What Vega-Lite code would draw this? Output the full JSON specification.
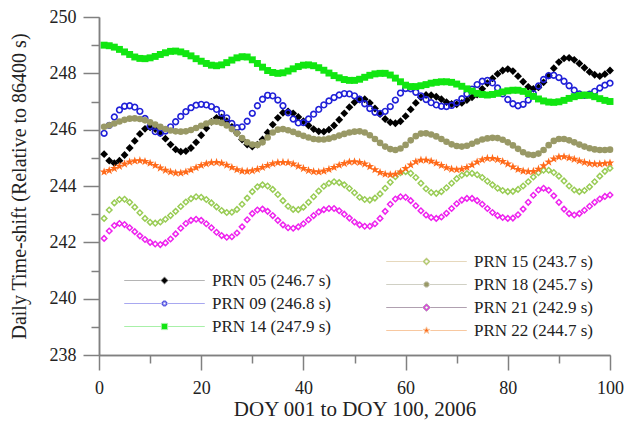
{
  "$schema": "https://vega.github.io/schema/vega-lite/v6.json",
  "width": 511,
  "height": 338,
  "autosize": {"type": "none"},
  "padding": {"left": 99, "top": 17, "right": 14, "bottom": 68},
  "background": "white",
  "config": {
    "view": {"stroke": null},
    "font": "Liberation Serif",
    "axis": {"labelFlush": false, "grid": false, "labelFont": "Liberation Serif", "titleFont": "Liberation Serif", "labelColor": "#222222", "titleColor": "#222222", "titleFontWeight": "normal", "domainColor": "#808080", "tickColor": "#808080", "domainWidth": 1.5, "tickWidth": 1.5},
    "legend": {"labelFont": "Liberation Serif", "labelFontSize": 17, "labelColor": "#222222"}
  },
  "datasets": {
    "p05": [{"d":1,"v":245.13},{"d":2,"v":244.90},{"d":3,"v":244.81},{"d":4,"v":244.90},{"d":5,"v":245.10},{"d":6,"v":245.35},{"d":7,"v":245.60},{"d":8,"v":245.85},{"d":9,"v":246.03},{"d":10,"v":246.08},{"d":11,"v":246.02},{"d":12,"v":245.88},{"d":13,"v":245.68},{"d":14,"v":245.47},{"d":15,"v":245.30},{"d":16,"v":245.22},{"d":17,"v":245.24},{"d":18,"v":245.35},{"d":19,"v":245.55},{"d":20,"v":245.80},{"d":21,"v":246.05},{"d":22,"v":246.28},{"d":23,"v":246.42},{"d":24,"v":246.43},{"d":25,"v":246.30},{"d":26,"v":246.10},{"d":27,"v":245.88},{"d":28,"v":245.65},{"d":29,"v":245.47},{"d":30,"v":245.40},{"d":31,"v":245.47},{"d":32,"v":245.65},{"d":33,"v":245.90},{"d":34,"v":246.18},{"d":35,"v":246.42},{"d":36,"v":246.60},{"d":37,"v":246.65},{"d":38,"v":246.58},{"d":39,"v":246.45},{"d":40,"v":246.30},{"d":41,"v":246.15},{"d":42,"v":246.02},{"d":43,"v":245.94},{"d":44,"v":245.93},{"d":45,"v":246.00},{"d":46,"v":246.15},{"d":47,"v":246.35},{"d":48,"v":246.58},{"d":49,"v":246.80},{"d":50,"v":246.97},{"d":51,"v":247.07},{"d":52,"v":247.08},{"d":53,"v":246.95},{"d":54,"v":246.75},{"d":55,"v":246.55},{"d":56,"v":246.38},{"d":57,"v":246.26},{"d":58,"v":246.23},{"d":59,"v":246.30},{"d":60,"v":246.48},{"d":61,"v":246.72},{"d":62,"v":246.95},{"d":63,"v":247.15},{"d":64,"v":247.23},{"d":65,"v":247.22},{"d":66,"v":247.17},{"d":67,"v":247.08},{"d":68,"v":246.98},{"d":69,"v":246.91},{"d":70,"v":246.90},{"d":71,"v":246.95},{"d":72,"v":247.05},{"d":73,"v":247.15},{"d":74,"v":247.25},{"d":75,"v":247.45},{"d":76,"v":247.65},{"d":77,"v":247.82},{"d":78,"v":247.98},{"d":79,"v":248.10},{"d":80,"v":248.15},{"d":81,"v":248.08},{"d":82,"v":247.90},{"d":83,"v":247.70},{"d":84,"v":247.52},{"d":85,"v":247.45},{"d":86,"v":247.50},{"d":87,"v":247.68},{"d":88,"v":247.92},{"d":89,"v":248.18},{"d":90,"v":248.40},{"d":91,"v":248.53},{"d":92,"v":248.55},{"d":93,"v":248.48},{"d":94,"v":248.35},{"d":95,"v":248.20},{"d":96,"v":248.05},{"d":97,"v":247.95},{"d":98,"v":247.90},{"d":99,"v":247.97},{"d":100,"v":248.10}],
    "p09": [{"d":1,"v":245.87},{"d":2,"v":246.15},{"d":3,"v":246.45},{"d":4,"v":246.70},{"d":5,"v":246.83},{"d":6,"v":246.85},{"d":7,"v":246.80},{"d":8,"v":246.65},{"d":9,"v":246.40},{"d":10,"v":246.12},{"d":11,"v":245.93},{"d":12,"v":245.88},{"d":13,"v":245.95},{"d":14,"v":246.10},{"d":15,"v":246.28},{"d":16,"v":246.47},{"d":17,"v":246.64},{"d":18,"v":246.78},{"d":19,"v":246.87},{"d":20,"v":246.90},{"d":21,"v":246.88},{"d":22,"v":246.82},{"d":23,"v":246.72},{"d":24,"v":246.58},{"d":25,"v":246.42},{"d":26,"v":246.22},{"d":27,"v":246.07},{"d":28,"v":246.10},{"d":29,"v":246.30},{"d":30,"v":246.58},{"d":31,"v":246.85},{"d":32,"v":247.08},{"d":33,"v":247.22},{"d":34,"v":247.20},{"d":35,"v":247.05},{"d":36,"v":246.85},{"d":37,"v":246.60},{"d":38,"v":246.38},{"d":39,"v":246.24},{"d":40,"v":246.25},{"d":41,"v":246.38},{"d":42,"v":246.55},{"d":43,"v":246.72},{"d":44,"v":246.88},{"d":45,"v":247.02},{"d":46,"v":247.14},{"d":47,"v":247.23},{"d":48,"v":247.28},{"d":49,"v":247.27},{"d":50,"v":247.20},{"d":51,"v":247.08},{"d":52,"v":246.92},{"d":53,"v":246.75},{"d":54,"v":246.62},{"d":55,"v":246.58},{"d":56,"v":246.65},{"d":57,"v":246.82},{"d":58,"v":247.05},{"d":59,"v":247.30},{"d":60,"v":247.46},{"d":61,"v":247.45},{"d":62,"v":247.33},{"d":63,"v":247.20},{"d":64,"v":247.07},{"d":65,"v":246.96},{"d":66,"v":246.88},{"d":67,"v":246.83},{"d":68,"v":246.82},{"d":69,"v":246.86},{"d":70,"v":246.96},{"d":71,"v":247.10},{"d":72,"v":247.27},{"d":73,"v":247.44},{"d":74,"v":247.60},{"d":75,"v":247.72},{"d":76,"v":247.75},{"d":77,"v":247.66},{"d":78,"v":247.48},{"d":79,"v":247.27},{"d":80,"v":247.07},{"d":81,"v":246.92},{"d":82,"v":246.85},{"d":83,"v":246.90},{"d":84,"v":247.05},{"d":85,"v":247.28},{"d":86,"v":247.55},{"d":87,"v":247.78},{"d":88,"v":247.92},{"d":89,"v":247.93},{"d":90,"v":247.85},{"d":91,"v":247.72},{"d":92,"v":247.56},{"d":93,"v":247.40},{"d":94,"v":247.27},{"d":95,"v":247.22},{"d":96,"v":247.26},{"d":97,"v":247.36},{"d":98,"v":247.48},{"d":99,"v":247.58},{"d":100,"v":247.65}],
    "p14": [{"d":1,"v":249.00},{"d":2,"v":248.98},{"d":3,"v":248.93},{"d":4,"v":248.85},{"d":5,"v":248.76},{"d":6,"v":248.67},{"d":7,"v":248.58},{"d":8,"v":248.53},{"d":9,"v":248.52},{"d":10,"v":248.55},{"d":11,"v":248.60},{"d":12,"v":248.67},{"d":13,"v":248.73},{"d":14,"v":248.78},{"d":15,"v":248.79},{"d":16,"v":248.76},{"d":17,"v":248.70},{"d":18,"v":248.62},{"d":19,"v":248.52},{"d":20,"v":248.43},{"d":21,"v":248.35},{"d":22,"v":248.29},{"d":23,"v":248.27},{"d":24,"v":248.30},{"d":25,"v":248.38},{"d":26,"v":248.47},{"d":27,"v":248.55},{"d":28,"v":248.59},{"d":29,"v":248.58},{"d":30,"v":248.48},{"d":31,"v":248.35},{"d":32,"v":248.22},{"d":33,"v":248.10},{"d":34,"v":248.03},{"d":35,"v":248.00},{"d":36,"v":248.02},{"d":37,"v":248.08},{"d":38,"v":248.16},{"d":39,"v":248.24},{"d":40,"v":248.29},{"d":41,"v":248.30},{"d":42,"v":248.27},{"d":43,"v":248.20},{"d":44,"v":248.11},{"d":45,"v":248.01},{"d":46,"v":247.92},{"d":47,"v":247.84},{"d":48,"v":247.78},{"d":49,"v":247.75},{"d":50,"v":247.75},{"d":51,"v":247.79},{"d":52,"v":247.86},{"d":53,"v":247.93},{"d":54,"v":247.98},{"d":55,"v":248.00},{"d":56,"v":248.00},{"d":57,"v":247.94},{"d":58,"v":247.83},{"d":59,"v":247.70},{"d":60,"v":247.58},{"d":61,"v":247.53},{"d":62,"v":247.53},{"d":63,"v":247.56},{"d":64,"v":247.60},{"d":65,"v":247.65},{"d":66,"v":247.68},{"d":67,"v":247.70},{"d":68,"v":247.70},{"d":69,"v":247.68},{"d":70,"v":247.62},{"d":71,"v":247.54},{"d":72,"v":247.45},{"d":73,"v":247.37},{"d":74,"v":247.29},{"d":75,"v":247.25},{"d":76,"v":247.23},{"d":77,"v":247.25},{"d":78,"v":247.29},{"d":79,"v":247.34},{"d":80,"v":247.38},{"d":81,"v":247.40},{"d":82,"v":247.40},{"d":83,"v":247.36},{"d":84,"v":247.28},{"d":85,"v":247.18},{"d":86,"v":247.09},{"d":87,"v":247.02},{"d":88,"v":246.98},{"d":89,"v":246.97},{"d":90,"v":246.99},{"d":91,"v":247.04},{"d":92,"v":247.11},{"d":93,"v":247.17},{"d":94,"v":247.21},{"d":95,"v":247.23},{"d":96,"v":247.22},{"d":97,"v":247.17},{"d":98,"v":247.10},{"d":99,"v":247.04},{"d":100,"v":247.00}],
    "p15": [{"d":1,"v":242.85},{"d":2,"v":243.15},{"d":3,"v":243.40},{"d":4,"v":243.52},{"d":5,"v":243.53},{"d":6,"v":243.42},{"d":7,"v":243.25},{"d":8,"v":243.05},{"d":9,"v":242.85},{"d":10,"v":242.71},{"d":11,"v":242.68},{"d":12,"v":242.72},{"d":13,"v":242.82},{"d":14,"v":242.95},{"d":15,"v":243.10},{"d":16,"v":243.27},{"d":17,"v":243.43},{"d":18,"v":243.55},{"d":19,"v":243.62},{"d":20,"v":243.60},{"d":21,"v":243.52},{"d":22,"v":243.40},{"d":23,"v":243.26},{"d":24,"v":243.13},{"d":25,"v":243.06},{"d":26,"v":243.07},{"d":27,"v":243.17},{"d":28,"v":243.35},{"d":29,"v":243.57},{"d":30,"v":243.80},{"d":31,"v":243.97},{"d":32,"v":244.04},{"d":33,"v":244.00},{"d":34,"v":243.88},{"d":35,"v":243.70},{"d":36,"v":243.48},{"d":37,"v":243.28},{"d":38,"v":243.17},{"d":39,"v":243.16},{"d":40,"v":243.25},{"d":41,"v":243.42},{"d":42,"v":243.62},{"d":43,"v":243.82},{"d":44,"v":243.99},{"d":45,"v":244.10},{"d":46,"v":244.15},{"d":47,"v":244.12},{"d":48,"v":244.04},{"d":49,"v":243.91},{"d":50,"v":243.76},{"d":51,"v":243.60},{"d":52,"v":243.52},{"d":53,"v":243.50},{"d":54,"v":243.57},{"d":55,"v":243.72},{"d":56,"v":243.92},{"d":57,"v":244.13},{"d":58,"v":244.33},{"d":59,"v":244.47},{"d":60,"v":244.51},{"d":61,"v":244.45},{"d":62,"v":244.30},{"d":63,"v":244.10},{"d":64,"v":243.90},{"d":65,"v":243.77},{"d":66,"v":243.74},{"d":67,"v":243.80},{"d":68,"v":243.94},{"d":69,"v":244.10},{"d":70,"v":244.26},{"d":71,"v":244.38},{"d":72,"v":244.44},{"d":73,"v":244.45},{"d":74,"v":244.40},{"d":75,"v":244.30},{"d":76,"v":244.17},{"d":77,"v":244.04},{"d":78,"v":243.92},{"d":79,"v":243.84},{"d":80,"v":243.80},{"d":81,"v":243.81},{"d":82,"v":243.88},{"d":83,"v":244.00},{"d":84,"v":244.15},{"d":85,"v":244.32},{"d":86,"v":244.47},{"d":87,"v":244.56},{"d":88,"v":244.56},{"d":89,"v":244.48},{"d":90,"v":244.35},{"d":91,"v":244.18},{"d":92,"v":244.00},{"d":93,"v":243.86},{"d":94,"v":243.80},{"d":95,"v":243.84},{"d":96,"v":243.97},{"d":97,"v":244.15},{"d":98,"v":244.35},{"d":99,"v":244.52},{"d":100,"v":244.63}],
    "p18": [{"d":1,"v":246.10},{"d":2,"v":246.15},{"d":3,"v":246.22},{"d":4,"v":246.29},{"d":5,"v":246.35},{"d":6,"v":246.39},{"d":7,"v":246.40},{"d":8,"v":246.38},{"d":9,"v":246.33},{"d":10,"v":246.26},{"d":11,"v":246.18},{"d":12,"v":246.10},{"d":13,"v":246.02},{"d":14,"v":245.97},{"d":15,"v":245.94},{"d":16,"v":245.93},{"d":17,"v":245.94},{"d":18,"v":245.99},{"d":19,"v":246.06},{"d":20,"v":246.14},{"d":21,"v":246.22},{"d":22,"v":246.27},{"d":23,"v":246.28},{"d":24,"v":246.24},{"d":25,"v":246.15},{"d":26,"v":246.02},{"d":27,"v":245.87},{"d":28,"v":245.70},{"d":29,"v":245.55},{"d":30,"v":245.47},{"d":31,"v":245.46},{"d":32,"v":245.55},{"d":33,"v":245.72},{"d":34,"v":245.90},{"d":35,"v":246.00},{"d":36,"v":246.02},{"d":37,"v":245.98},{"d":38,"v":245.92},{"d":39,"v":245.85},{"d":40,"v":245.78},{"d":41,"v":245.72},{"d":42,"v":245.67},{"d":43,"v":245.65},{"d":44,"v":245.65},{"d":45,"v":245.68},{"d":46,"v":245.73},{"d":47,"v":245.79},{"d":48,"v":245.85},{"d":49,"v":245.90},{"d":50,"v":245.93},{"d":51,"v":245.94},{"d":52,"v":245.90},{"d":53,"v":245.80},{"d":54,"v":245.67},{"d":55,"v":245.53},{"d":56,"v":245.40},{"d":57,"v":245.31},{"d":58,"v":245.28},{"d":59,"v":245.33},{"d":60,"v":245.46},{"d":61,"v":245.62},{"d":62,"v":245.77},{"d":63,"v":245.86},{"d":64,"v":245.87},{"d":65,"v":245.83},{"d":66,"v":245.76},{"d":67,"v":245.67},{"d":68,"v":245.57},{"d":69,"v":245.48},{"d":70,"v":245.42},{"d":71,"v":245.40},{"d":72,"v":245.43},{"d":73,"v":245.50},{"d":74,"v":245.58},{"d":75,"v":245.65},{"d":76,"v":245.69},{"d":77,"v":245.71},{"d":78,"v":245.70},{"d":79,"v":245.64},{"d":80,"v":245.55},{"d":81,"v":245.44},{"d":82,"v":245.32},{"d":83,"v":245.20},{"d":84,"v":245.12},{"d":85,"v":245.10},{"d":86,"v":245.15},{"d":87,"v":245.28},{"d":88,"v":245.45},{"d":89,"v":245.60},{"d":90,"v":245.67},{"d":91,"v":245.67},{"d":92,"v":245.62},{"d":93,"v":245.55},{"d":94,"v":245.47},{"d":95,"v":245.40},{"d":96,"v":245.34},{"d":97,"v":245.30},{"d":98,"v":245.28},{"d":99,"v":245.28},{"d":100,"v":245.29}],
    "p21": [{"d":1,"v":242.14},{"d":2,"v":242.40},{"d":3,"v":242.60},{"d":4,"v":242.67},{"d":5,"v":242.63},{"d":6,"v":242.52},{"d":7,"v":242.38},{"d":8,"v":242.23},{"d":9,"v":242.10},{"d":10,"v":242.00},{"d":11,"v":241.94},{"d":12,"v":241.92},{"d":13,"v":241.98},{"d":14,"v":242.12},{"d":15,"v":242.30},{"d":16,"v":242.50},{"d":17,"v":242.67},{"d":18,"v":242.78},{"d":19,"v":242.82},{"d":20,"v":242.78},{"d":21,"v":242.66},{"d":22,"v":242.52},{"d":23,"v":242.36},{"d":24,"v":242.24},{"d":25,"v":242.18},{"d":26,"v":242.20},{"d":27,"v":242.33},{"d":28,"v":242.55},{"d":29,"v":242.80},{"d":30,"v":243.02},{"d":31,"v":243.15},{"d":32,"v":243.18},{"d":33,"v":243.10},{"d":34,"v":242.95},{"d":35,"v":242.78},{"d":36,"v":242.62},{"d":37,"v":242.52},{"d":38,"v":242.50},{"d":39,"v":242.55},{"d":40,"v":242.66},{"d":41,"v":242.80},{"d":42,"v":242.95},{"d":43,"v":243.08},{"d":44,"v":243.16},{"d":45,"v":243.20},{"d":46,"v":243.20},{"d":47,"v":243.12},{"d":48,"v":243.00},{"d":49,"v":242.86},{"d":50,"v":242.72},{"d":51,"v":242.62},{"d":52,"v":242.57},{"d":53,"v":242.57},{"d":54,"v":242.66},{"d":55,"v":242.85},{"d":56,"v":243.10},{"d":57,"v":243.35},{"d":58,"v":243.54},{"d":59,"v":243.62},{"d":60,"v":243.60},{"d":61,"v":243.48},{"d":62,"v":243.30},{"d":63,"v":243.12},{"d":64,"v":242.97},{"d":65,"v":242.88},{"d":66,"v":242.85},{"d":67,"v":242.90},{"d":68,"v":243.03},{"d":69,"v":243.20},{"d":70,"v":243.37},{"d":71,"v":243.50},{"d":72,"v":243.56},{"d":73,"v":243.56},{"d":74,"v":243.48},{"d":75,"v":243.35},{"d":76,"v":243.20},{"d":77,"v":243.06},{"d":78,"v":242.95},{"d":79,"v":242.88},{"d":80,"v":242.85},{"d":81,"v":242.86},{"d":82,"v":242.98},{"d":83,"v":243.18},{"d":84,"v":243.42},{"d":85,"v":243.67},{"d":86,"v":243.86},{"d":87,"v":243.92},{"d":88,"v":243.85},{"d":89,"v":243.65},{"d":90,"v":243.42},{"d":91,"v":243.18},{"d":92,"v":243.02},{"d":93,"v":242.97},{"d":94,"v":243.02},{"d":95,"v":243.14},{"d":96,"v":243.28},{"d":97,"v":243.42},{"d":98,"v":243.54},{"d":99,"v":243.63},{"d":100,"v":243.68}],
    "p22": [{"d":1,"v":244.50},{"d":2,"v":244.55},{"d":3,"v":244.62},{"d":4,"v":244.70},{"d":5,"v":244.78},{"d":6,"v":244.85},{"d":7,"v":244.89},{"d":8,"v":244.90},{"d":9,"v":244.87},{"d":10,"v":244.81},{"d":11,"v":244.73},{"d":12,"v":244.64},{"d":13,"v":244.56},{"d":14,"v":244.50},{"d":15,"v":244.46},{"d":16,"v":244.46},{"d":17,"v":244.50},{"d":18,"v":244.57},{"d":19,"v":244.65},{"d":20,"v":244.73},{"d":21,"v":244.79},{"d":22,"v":244.83},{"d":23,"v":244.84},{"d":24,"v":244.81},{"d":25,"v":244.74},{"d":26,"v":244.66},{"d":27,"v":244.58},{"d":28,"v":244.53},{"d":29,"v":244.52},{"d":30,"v":244.54},{"d":31,"v":244.59},{"d":32,"v":244.66},{"d":33,"v":244.73},{"d":34,"v":244.79},{"d":35,"v":244.83},{"d":36,"v":244.84},{"d":37,"v":244.83},{"d":38,"v":244.78},{"d":39,"v":244.70},{"d":40,"v":244.62},{"d":41,"v":244.55},{"d":42,"v":244.51},{"d":43,"v":244.50},{"d":44,"v":244.53},{"d":45,"v":244.59},{"d":46,"v":244.66},{"d":47,"v":244.74},{"d":48,"v":244.80},{"d":49,"v":244.85},{"d":50,"v":244.86},{"d":51,"v":244.84},{"d":52,"v":244.78},{"d":53,"v":244.69},{"d":54,"v":244.58},{"d":55,"v":244.48},{"d":56,"v":244.42},{"d":57,"v":244.40},{"d":58,"v":244.42},{"d":59,"v":244.50},{"d":60,"v":244.62},{"d":61,"v":244.75},{"d":62,"v":244.86},{"d":63,"v":244.92},{"d":64,"v":244.92},{"d":65,"v":244.88},{"d":66,"v":244.81},{"d":67,"v":244.73},{"d":68,"v":244.65},{"d":69,"v":244.60},{"d":70,"v":244.58},{"d":71,"v":244.60},{"d":72,"v":244.66},{"d":73,"v":244.75},{"d":74,"v":244.85},{"d":75,"v":244.93},{"d":76,"v":244.98},{"d":77,"v":244.98},{"d":78,"v":244.94},{"d":79,"v":244.87},{"d":80,"v":244.78},{"d":81,"v":244.68},{"d":82,"v":244.59},{"d":83,"v":244.53},{"d":84,"v":244.51},{"d":85,"v":244.52},{"d":86,"v":244.60},{"d":87,"v":244.72},{"d":88,"v":244.85},{"d":89,"v":244.96},{"d":90,"v":245.03},{"d":91,"v":245.04},{"d":92,"v":245.00},{"d":93,"v":244.95},{"d":94,"v":244.89},{"d":95,"v":244.84},{"d":96,"v":244.80},{"d":97,"v":244.78},{"d":98,"v":244.78},{"d":99,"v":244.80},{"d":100,"v":244.82}]
  },
  "layer": [
    {
      "encoding": {
        "x": {"field": "d", "type": "quantitative", "scale": {"domain": [0, 100], "nice": false, "zero": false},
          "axis": {"orient": "bottom", "values": [0, 20, 40, 60, 80, 100], "tickSize": 15, "labelFontSize": 18, "labelPadding": 9, "title": "DOY 001 to DOY 100, 2006", "titleFontSize": 21, "titlePadding": 1}},
        "y": {"field": "v", "type": "quantitative", "scale": {"domain": [238, 250], "nice": false, "zero": false},
          "axis": {"orient": "left", "values": [238, 240, 242, 244, 246, 248, 250], "tickSize": 16, "labelFontSize": 18, "labelPadding": 7, "title": "Daily Time-shift (Relative to 86400 s)", "titleFontSize": 20, "titlePadding": 20}}
      },
      "layer": [
        {
          "data": {"name": "p05"},
          "mark": {"type": "point", "shape": "diamond", "filled": true, "size": 62, "opacity": 1, "color": "#000000"}
        },
        {
          "data": {"name": "p09"},
          "mark": {"type": "point", "shape": "M1,0L0.866,0.5L0.5,0.866L0,1L-0.5,0.866L-0.866,0.5L-1,0L-0.866,-0.5L-0.5,-0.866L0,-1L0.5,-0.866L0.866,-0.5ZM0.55,0L0.476,-0.275L0.275,-0.476L0,-0.55L-0.275,-0.476L-0.476,-0.275L-0.55,0L-0.476,0.275L-0.275,0.476L0,0.55L0.275,0.476L0.476,0.275Z", "filled": true, "size": 54, "opacity": 1, "color": "#2020d8"}
        },
        {
          "data": {"name": "p14"},
          "mark": {"type": "point", "shape": "square", "filled": true, "size": 48, "opacity": 1, "color": "#11e611"}
        },
        {
          "data": {"name": "p05"},
          "mark": {"type": "point", "filled": true, "size": 0, "strokeWidth": 1, "opacity": 1},
          "encoding": {
            "fill": {"datum": "PRN 05 (246.7 s)", "type": "nominal",
              "scale": {"domain": ["PRN 05 (246.7 s)", "PRN 09 (246.8 s)", "PRN 14 (247.9 s)"], "range": ["#000000", "#2020d8", "#11e611"]},
              "legend": {"title": null, "orient": "none", "legendX": 57, "legendY": 255, "padding": 0, "rowPadding": 5, "symbolSize": 27, "symbolStrokeWidth": 1, "labelOffset": 39, "labelFontSize": 17}},
            "stroke": {"datum": "PRN 05 (246.7 s)", "type": "nominal",
              "scale": {"domain": ["PRN 05 (246.7 s)", "PRN 09 (246.8 s)", "PRN 14 (247.9 s)"], "range": ["#b4b4b4", "#a8a8f0", "#a8f0a8"]},
              "legend": {"title": null, "orient": "none", "legendX": 57, "legendY": 255, "padding": 0, "rowPadding": 5, "symbolSize": 27, "symbolStrokeWidth": 1, "labelOffset": 39, "labelFontSize": 17}},
            "shape": {"datum": "PRN 05 (246.7 s)", "type": "nominal",
              "scale": {"domain": ["PRN 05 (246.7 s)", "PRN 09 (246.8 s)", "PRN 14 (247.9 s)"], "range": [
                "M-15.5,0L-1.5,0M1.5,0L15.5,0M0,-1.4L1.4,0L0,1.4L-1.4,0Z",
                "M-15.5,0L-1.3,0M1.3,0L15.5,0M1.02,-0.42L1.02,0.42L0.42,1.02L-0.42,1.02L-1.02,0.42L-1.02,-0.42L-0.42,-1.02L0.42,-1.02ZM0.5,-0.21L0.21,-0.5L-0.21,-0.5L-0.5,-0.21L-0.5,0.21L-0.21,0.5L0.21,0.5L0.5,0.21Z",
                "M-15.5,0L-1.4,0M1.4,0L15.5,0M-1.2,-1.2L1.2,-1.2L1.2,1.2L-1.2,1.2Z"]},
              "legend": {"title": null, "orient": "none", "legendX": 57, "legendY": 255, "padding": 0, "rowPadding": 5, "symbolSize": 27, "symbolStrokeWidth": 1, "labelOffset": 39, "labelFontSize": 17}}
          }
        }
      ]
    },
    {
      "encoding": {
        "x": {"field": "d", "type": "quantitative",
          "axis": {"orient": "bottom", "values": [10, 30, 50, 70, 90], "tickSize": 8, "labels": false, "title": null}},
        "y": {"field": "v", "type": "quantitative",
          "axis": {"orient": "left", "values": [239, 241, 243, 245, 247, 249], "tickSize": 8, "labels": false, "title": null}}
      },
      "layer": [
        {
          "data": {"name": "p15"},
          "mark": {"type": "point", "shape": "M0,-1L1,0L0,1L-1,0ZM0,-0.45L-0.45,0L0,0.45L0.45,0Z", "filled": true, "size": 58, "opacity": 1, "color": "#99cc55"}
        },
        {
          "data": {"name": "p18"},
          "mark": {"type": "point", "shape": "circle", "filled": true, "size": 44, "opacity": 1, "color": "#999966"}
        },
        {
          "data": {"name": "p21"},
          "mark": {"type": "point", "shape": "M0,-1L1,0L0,1L-1,0ZM0,-0.45L-0.45,0L0,0.45L0.45,0Z", "filled": true, "size": 58, "opacity": 1, "color": "#ee22ee"}
        },
        {
          "data": {"name": "p22"},
          "mark": {"type": "point", "shape": "M0,-1.15L0.27,-0.37L1.09,-0.36L0.44,0.14L0.68,0.93L0,0.46L-0.68,0.93L-0.44,0.14L-1.09,-0.36L-0.27,-0.37Z", "filled": true, "size": 62, "opacity": 1, "color": "#ff6a1a"}
        },
        {
          "data": {"name": "p22"},
          "mark": {"type": "point", "filled": true, "size": 0, "strokeWidth": 1, "opacity": 1},
          "encoding": {
            "fill": {"datum": "PRN 15 (243.7 s)", "type": "nominal",
              "scale": {"domain": ["PRN 15 (243.7 s)", "PRN 18 (245.7 s)", "PRN 21 (242.9 s)", "PRN 22 (244.7 s)"], "range": ["#99cc55", "#999966", "#ee22ee", "#ff6a1a"]},
              "legend": {"title": null, "orient": "none", "legendX": 319, "legendY": 236, "padding": 0, "rowPadding": 5, "symbolSize": 27, "symbolStrokeWidth": 1, "labelOffset": 39, "labelFontSize": 17}},
            "stroke": {"datum": "PRN 15 (243.7 s)", "type": "nominal",
              "scale": {"domain": ["PRN 15 (243.7 s)", "PRN 18 (245.7 s)", "PRN 21 (242.9 s)", "PRN 22 (244.7 s)"], "range": ["#e6d8bc", "#d0d0c4", "#b0a0b0", "#f8c8a0"]},
              "legend": {"title": null, "orient": "none", "legendX": 319, "legendY": 236, "padding": 0, "rowPadding": 5, "symbolSize": 27, "symbolStrokeWidth": 1, "labelOffset": 39, "labelFontSize": 17}},
            "shape": {"datum": "PRN 15 (243.7 s)", "type": "nominal",
              "scale": {"domain": ["PRN 15 (243.7 s)", "PRN 18 (245.7 s)", "PRN 21 (242.9 s)", "PRN 22 (244.7 s)"], "range": [
                "M-15.5,0L-1.5,0M1.5,0L15.5,0M0,-1.45L1.45,0L0,1.45L-1.45,0ZM0,-0.65L-0.65,0L0,0.65L0.65,0Z",
                "M-15.5,0L-1.3,0M1.3,0L15.5,0M1.02,-0.42L1.02,0.42L0.42,1.02L-0.42,1.02L-1.02,0.42L-1.02,-0.42L-0.42,-1.02L0.42,-1.02Z",
                "M-15.5,0L-1.5,0M1.5,0L15.5,0M0,-1.45L1.45,0L0,1.45L-1.45,0ZM0,-0.65L-0.65,0L0,0.65L0.65,0Z",
                "M-15.5,0L-1.5,0M1.5,0L15.5,0M0,-1.4L0.33,-0.45L1.33,-0.43L0.53,0.17L0.82,1.13L0,0.56L-0.82,1.13L-0.53,0.17L-1.33,-0.43L-0.33,-0.45Z"]},
              "legend": {"title": null, "orient": "none", "legendX": 319, "legendY": 236, "padding": 0, "rowPadding": 5, "symbolSize": 27, "symbolStrokeWidth": 1, "labelOffset": 39, "labelFontSize": 17}}
          }
        }
      ]
    }
  ],
  "resolve": {"scale": {"fill": "independent", "stroke": "independent", "shape": "independent"}, "axis": {"x": "independent", "y": "independent"}}
}
